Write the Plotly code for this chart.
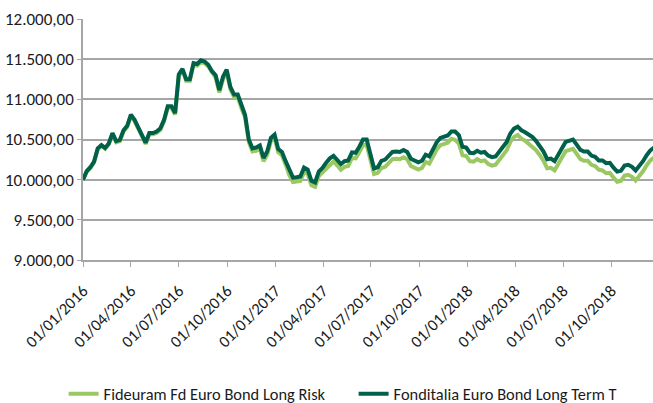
import pandas as pd
import plotly.graph_objects as go

FONT = "Carlito, Lato, 'Open Sans', sans-serif"
LIGHT_GREEN = "#9BC862"
DARK_GREEN = "#00604A"
GRID_GREY = "#A6A6A6"

SERIES_NAMES = ["Fideuram Fd Euro Bond Long Risk", "Fonditalia Euro Bond Long Term T"]

# weekly observations starting 01/01/2016
dates = pd.date_range("2016-01-01", periods=156, freq="7D")

fonditalia = [
    10000, 10105, 10155, 10225, 10390, 10430, 10395, 10450, 10580, 10480,
    10495, 10615, 10670, 10810, 10745, 10650, 10535, 10460, 10580, 10580,
    10600, 10640, 10745, 10915, 10915, 10830, 11310, 11380, 11250, 11250,
    11450, 11440, 11485, 11470, 11430, 11350, 11300, 11115, 11280, 11370,
    11155, 11060, 11060, 10920, 10805, 10500, 10390, 10400, 10425, 10270,
    10350, 10520, 10560, 10380, 10345, 10230, 10110, 10025, 10030, 10040,
    10150, 10125, 9985, 9965, 10100, 10145, 10210, 10265, 10295, 10250,
    10195, 10230, 10240, 10340, 10335, 10410, 10500, 10500, 10305, 10140,
    10155, 10235, 10250, 10295, 10345, 10350, 10345, 10370, 10345, 10260,
    10235, 10215, 10235, 10310, 10290, 10370, 10465, 10520, 10540, 10550,
    10600, 10600, 10555, 10410, 10400, 10335, 10330, 10360, 10335, 10345,
    10300, 10280, 10290, 10350, 10400, 10470, 10575, 10635, 10660, 10615,
    10590, 10560, 10530, 10480, 10420, 10350, 10255, 10262, 10230, 10300,
    10390, 10470, 10480, 10500, 10435, 10370, 10350, 10350, 10300, 10285,
    10240, 10240, 10205, 10210, 10150, 10100, 10110, 10175, 10185, 10160,
    10115, 10165, 10230, 10305, 10365, 10400,
]

fideuram = [
    10000, 10095, 10145, 10215, 10380, 10420, 10385, 10440, 10570, 10465,
    10480, 10600, 10655, 10795, 10730, 10635, 10520, 10445, 10565, 10565,
    10585, 10620, 10725, 10895, 10895, 10810, 11290, 11360, 11230, 11230,
    11430, 11420, 11465, 11450, 11410, 11330, 11270, 11085, 11250, 11340,
    11125, 11030, 11030, 10890, 10775, 10470, 10350, 10360, 10385, 10230,
    10310, 10480, 10520, 10340, 10305, 10190, 10055, 9970, 9975, 9985,
    10095, 10070, 9930, 9910, 10045, 10090, 10140, 10195, 10225, 10180,
    10125, 10160, 10170, 10270, 10265, 10340, 10430, 10430, 10235, 10070,
    10085, 10145, 10160, 10205, 10255, 10260, 10255, 10280, 10255, 10170,
    10145, 10125, 10145, 10220, 10200, 10280, 10375, 10430, 10450, 10460,
    10510, 10495, 10450, 10305, 10295, 10230, 10225, 10255, 10230, 10240,
    10195, 10175, 10185, 10245, 10295, 10365, 10470, 10530, 10555, 10510,
    10485, 10445, 10415, 10365, 10305, 10235, 10140, 10147, 10115, 10185,
    10275, 10355, 10365, 10385, 10320, 10255, 10235, 10235, 10185, 10170,
    10125, 10115, 10080, 10085, 10025, 9975, 9985, 10050, 10060, 10035,
    9990, 10040, 10105, 10180, 10240, 10275,
]

tick_dates = pd.date_range("2016-01-01", "2018-10-01", freq="QS")
tick_labels = [d.strftime("%d/%m/%Y") for d in tick_dates]
y_ticks = [9000, 9500, 10000, 10500, 11000, 11500, 12000]
y_labels = [f"{v:,.2f}".replace(",", "X").replace(".", ",").replace("X", ".") for v in y_ticks]

fig = go.Figure()
fig.add_trace(go.Scatter(x=dates, y=fideuram, mode="lines", name=SERIES_NAMES[0],
                         line={"color": LIGHT_GREEN, "width": 4}))
fig.add_trace(go.Scatter(x=dates, y=fonditalia, mode="lines", name=SERIES_NAMES[1],
                         line={"color": DARK_GREEN, "width": 4}))

fig.update_layout(
    width=653,
    height=403,
    margin={"l": 83, "r": 0, "t": 19, "b": 143, "autoexpand": False},
    paper_bgcolor="white",
    plot_bgcolor="white",
    font={"family": FONT, "size": 16, "color": "#1a1a1a"},
    showlegend=True,
    legend={
        "orientation": "h",
        "x": -0.034,
        "xanchor": "left",
        "y": -0.556,
        "yanchor": "middle",
        "font": {"size": 16.4},
        "entrywidth": 245,
        "entrywidthmode": "pixels",
        "bgcolor": "rgba(0,0,0,0)",
    },
)
fig.update_xaxes(
    range=["2016-01-01", "2018-12-19"],
    tickvals=tick_dates,
    ticktext=tick_labels,
    tickangle=-45,
    tickfont={"size": 16.5},
    ticklabelstandoff=8,
    ticks="outside",
    ticklen=5,
    tickcolor=GRID_GREY,
    showgrid=False,
    showline=True,
    linecolor=GRID_GREY,
    linewidth=1.5,
    zeroline=False,
    automargin=False,
)
fig.update_yaxes(
    range=[9000, 12000],
    tickvals=y_ticks,
    ticktext=y_labels,
    tickfont={"size": 17},
    ticks="outside",
    ticklen=4,
    tickcolor=GRID_GREY,
    showgrid=True,
    gridcolor=GRID_GREY,
    gridwidth=1.5,
    showline=True,
    linecolor=GRID_GREY,
    linewidth=1.5,
    zeroline=False,
    automargin=False,
)

# drop the browser's default body margin so the figure fills the window exactly
fig.write_html(
    "out.html",
    config={"displayModeBar": False},
    post_script="document.body.style.margin = '0';",
)
